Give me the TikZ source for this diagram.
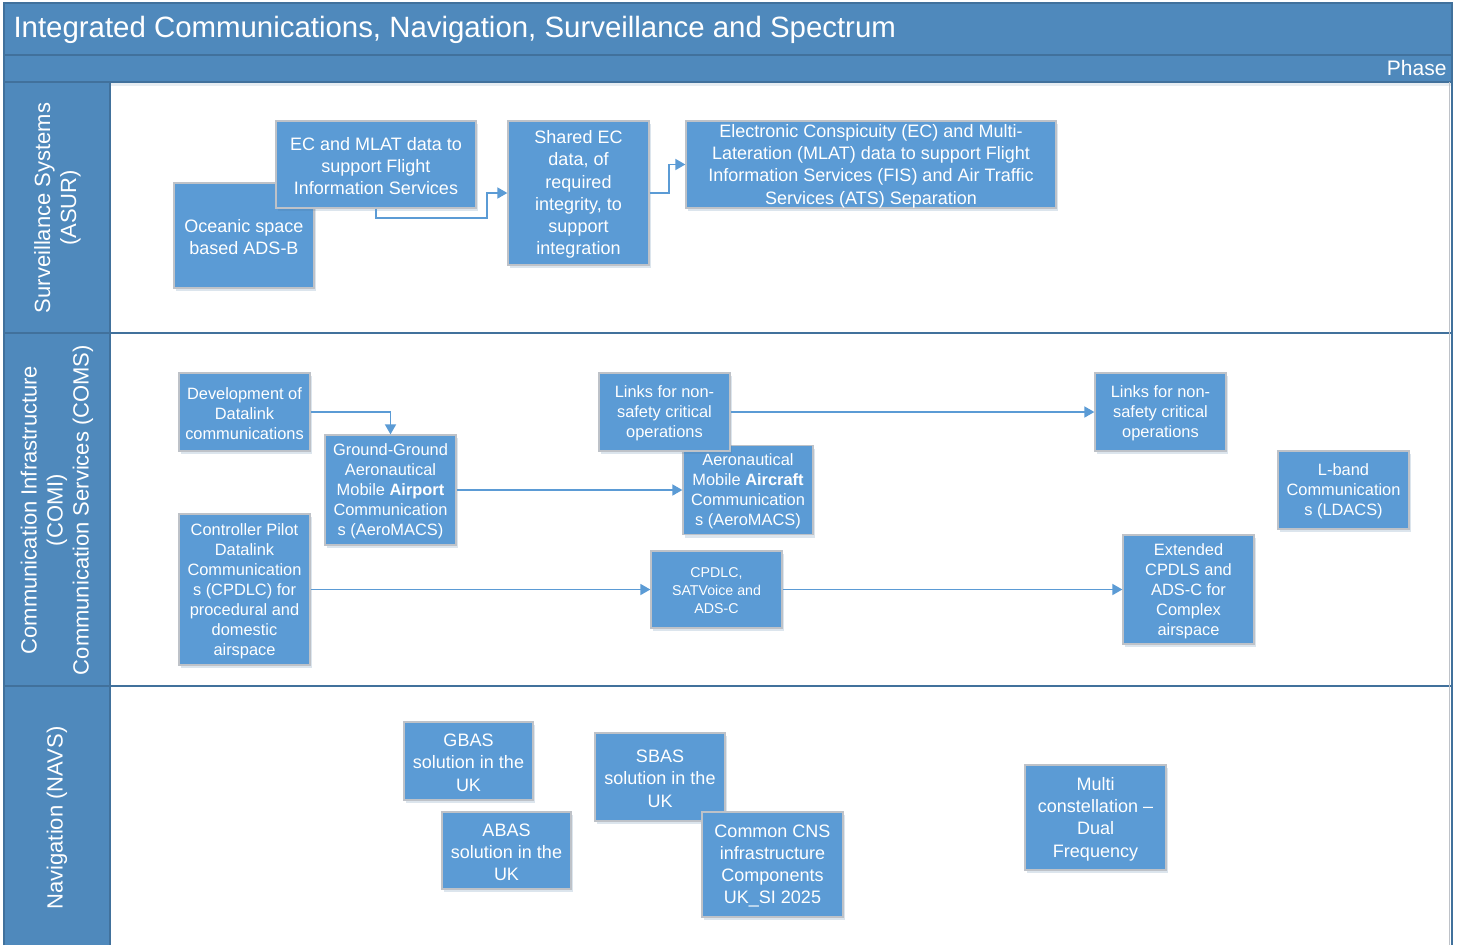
\documentclass[tikz,border=0pt]{standalone}
\usepackage{fontspec}
\setmainfont{Liberation Sans}
\usetikzlibrary{arrows.meta,shadows}

\definecolor{hdr}{RGB}{79,137,188}
\definecolor{hdrline}{RGB}{65,113,156}
\definecolor{boxfill}{RGB}{91,155,213}
\definecolor{boxline}{RGB}{190,194,200}

\tikzset{
  box/.style={draw=boxline, fill=boxfill, line width=1.3pt, inner sep=0pt,
    drop shadow={shadow xshift=2pt, shadow yshift=-3pt, opacity=0.18, fill=hdrline}},
  lbl/.style={text=white, align=center, inner sep=0pt, yshift=-1.6pt},
  tb/.style={label={[lbl, font=\fontsize{18}{22.2}\selectfont]center:{#1}}},
  tm/.style={label={[lbl, font=\fontsize{16.4}{20}\selectfont]center:{#1}}},
  ts/.style={label={[lbl, font=\fontsize{14.2}{18}\selectfont]center:{#1}}},
  arr/.style={draw=boxfill, line width=1.7pt, -{Triangle[length=10pt,width=11pt]}},
  lanelabel/.style={rotate=90, align=center, text=white, font=\fontsize{22}{26}\selectfont},
  divider/.style={draw=hdrline, line width=1.5pt}
}

\begin{document}
\begin{tikzpicture}[x=1pt, y=-1pt]
  \useasboundingbox (0,0) rectangle (1464,945);
  \fill[white] (0,0) rectangle (1464,945);

  % frame: title bar, phase bar, lane header column
  \fill[hdr] (4,3) rectangle (1452,82);
  \fill[hdr] (4,82) rectangle (110,945);
  \fill[hdrline!25, opacity=0.5] (110,82) rectangle (1451,86);
  \draw[divider] (4,55) -- (1452,55);
  \draw[divider] (4,82) -- (1452,82);
  \draw[divider] (4,333) -- (1452,333);
  \draw[divider] (4,686) -- (1452,686);
  \draw[divider] (110,82) -- (110,945);
  \draw[draw=hdrline, line width=1.2pt] (4,945) -- (4,3) -- (1452,3) -- (1452,945);
  \draw[draw=boxline, line width=0.8pt] (1449.5,82) -- (1449.5,945);

  \node[anchor=west, text=white, font=\fontsize{29.4}{33}\selectfont] (title) at (10,30)
    {Integrated Communications, Navigation, Surveillance and Spectrum};
  \node[anchor=east, text=white, font=\fontsize{21}{24}\selectfont] (phase) at (1450,68) {Phase};

  \node[lanelabel] (laneA) at (57.5,208) {Surveillance Systems\\(ASUR)};
  \node[lanelabel] (laneB) at (57,510) {Communication Infrastructure\\(COMI)\\Communication Services (COMS)};
  \node[lanelabel] (laneC) at (57,818) {Navigation (NAVS)};

  % surveillance lane
  \node[box, minimum width=140pt, minimum height=105pt,
    tb={Oceanic space\\based ADS-B}] (ocean) at (244,235.5) {};
  \node[box, minimum width=200pt, minimum height=87pt,
    tb={EC and MLAT data to\\support Flight\\Information Services}] (ecml) at (376,164.5) {};
  \node[box, minimum width=141pt, minimum height=144pt,
    tb={Shared EC\\data, of\\required\\integrity, to\\support\\integration}] (shared) at (578.5,193) {};
  \node[box, minimum width=370pt, minimum height=87pt,
    tb={Electronic Conspicuity (EC) and Multi-\\Lateration (MLAT) data to support Flight\\Information Services (FIS) and Air Traffic\\Services (ATS) Separation}] (elec) at (871,164.5) {};

  \coordinate (j1) at (487,218);
  \coordinate (j2) at (669,193);
  \draw[arr] (ecml.south) |- (j1) |- (shared.west);
  \draw[arr] (shared.east) -- (j2) |- (elec.west);

  % communication lane
  \node[box, minimum width=131pt, minimum height=78pt,
    tm={Development of\\Datalink\\communications}] (dev) at (244.5,412) {};
  \node[box, minimum width=131pt, minimum height=110pt,
    tm={Ground-Ground\\Aeronautical\\Mobile \textbf{Airport}\\Communication\\s (AeroMACS)}] (gg) at (390.5,490) {};
  \node[box, minimum width=131pt, minimum height=151pt,
    tm={Controller Pilot\\Datalink\\Communication\\s (CPDLC) for\\procedural and\\domestic\\airspace}] (cpdlc) at (244.5,589.5) {};
  \node[box, minimum width=130pt, minimum height=89pt,
    tm={Aeronautical\\Mobile \textbf{Aircraft}\\Communication\\s (AeroMACS)}] (amac) at (748,490) {};
  \node[box, minimum width=131pt, minimum height=78pt,
    tm={Links for non-\\safety critical\\operations}] (linksA) at (664.5,412) {};
  \node[box, minimum width=131pt, minimum height=78pt,
    tm={Links for non-\\safety critical\\operations}] (linksB) at (1160.5,412) {};
  \node[box, minimum width=131pt, minimum height=78pt,
    tm={L-band\\Communication\\s (LDACS)}] (lband) at (1343.5,490) {};
  \node[box, minimum width=131pt, minimum height=77pt,
    ts={CPDLC,\\SATVoice and\\ADS-C}] (sat) at (716.5,589.5) {};
  \node[box, minimum width=131pt, minimum height=109pt,
    tm={Extended\\CPDLS and\\ADS-C for\\Complex\\airspace}] (ext) at (1188.5,589.5) {};

  \draw[arr] (dev.east) -| (gg.north);
  \draw[arr] (gg.east) -- (amac.west);
  \draw[arr] (linksA.east) -- (linksB.west);
  \draw[arr] (cpdlc.east) -- (sat.west);
  \draw[arr] (sat.east) -- (ext.west);

  % navigation lane
  \node[box, minimum width=129pt, minimum height=78pt,
    tb={GBAS\\solution in the\\UK}] (gbas) at (468.5,761) {};
  \node[box, minimum width=129pt, minimum height=77pt,
    tb={ABAS\\solution in the\\UK}] (abas) at (506.5,850.5) {};
  \node[box, minimum width=130pt, minimum height=88pt,
    tb={SBAS\\solution in the\\UK}] (sbas) at (660,777) {};
  \node[box, minimum width=141pt, minimum height=105pt,
    tb={Common CNS\\infrastructure\\Components\\UK\_SI 2025}] (cns) at (772.5,864.5) {};
  \node[box, minimum width=141pt, minimum height=105pt,
    tb={Multi\\constellation --\\Dual\\Frequency}] (multi) at (1095.5,817.5) {};
\end{tikzpicture}
\end{document}
